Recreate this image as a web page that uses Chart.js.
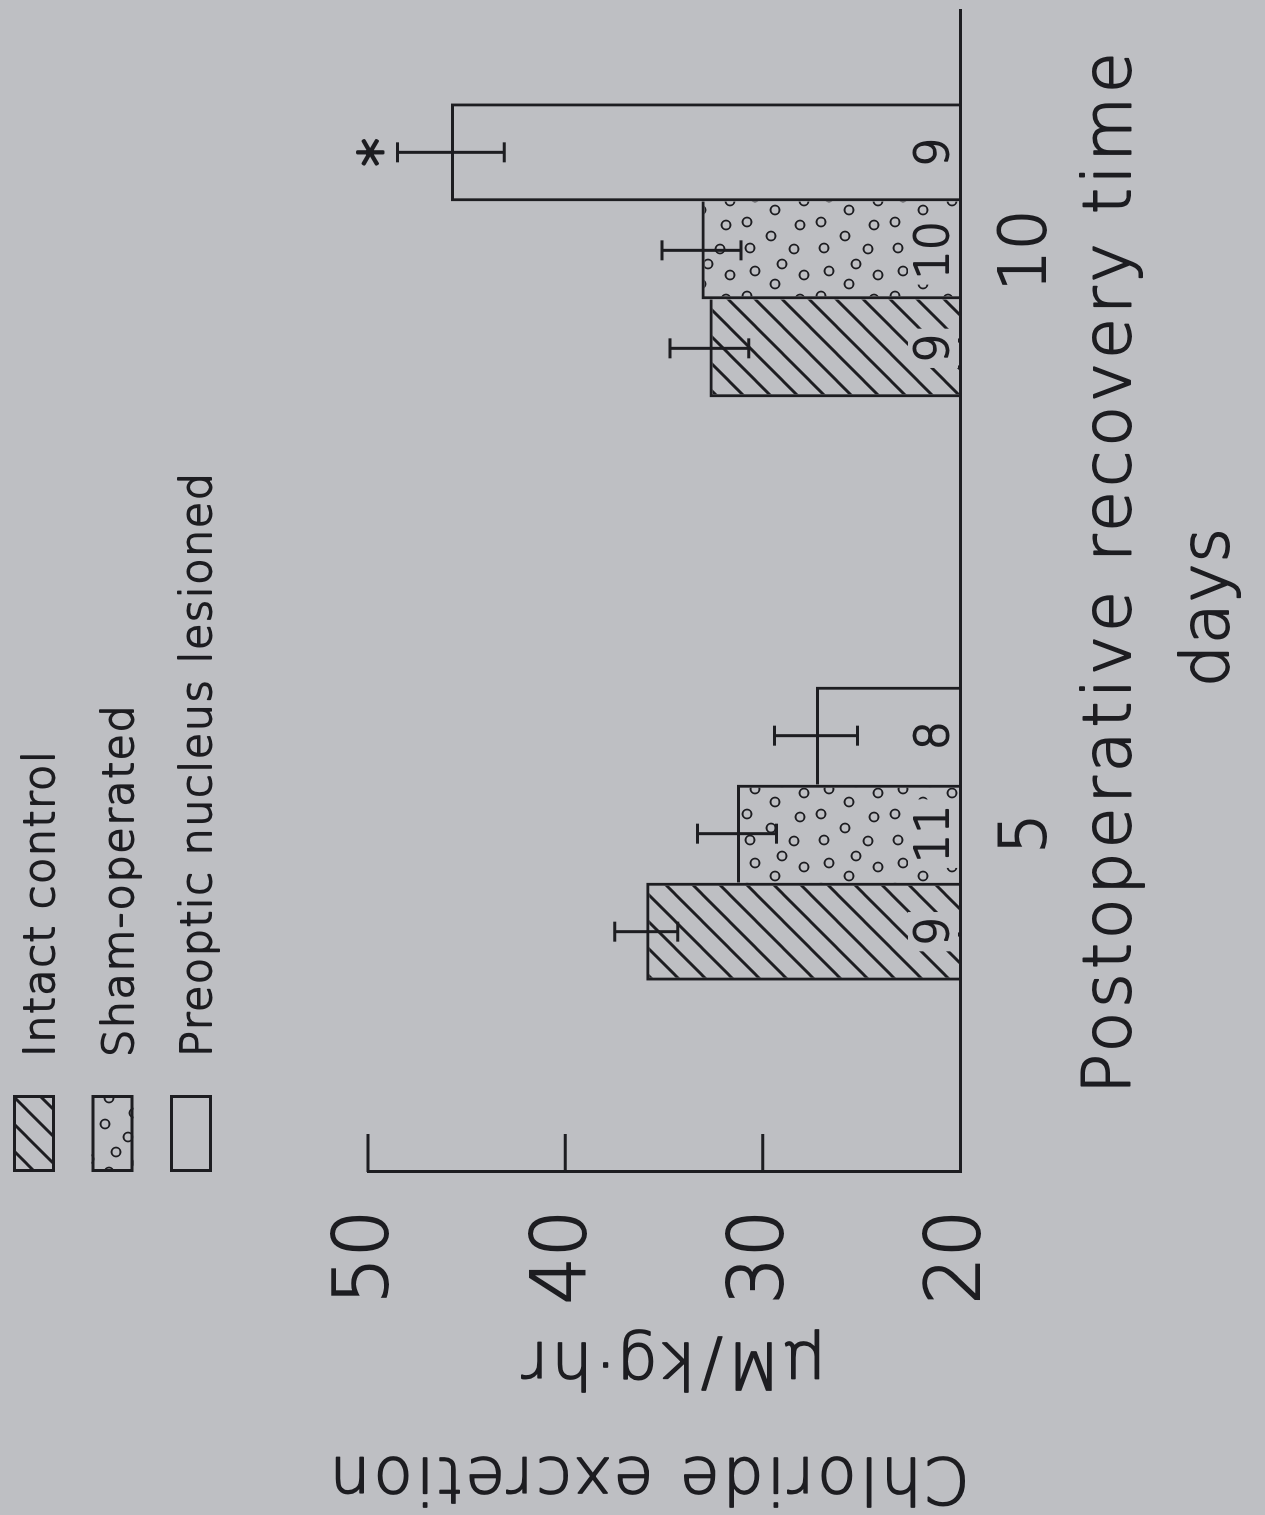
<!DOCTYPE html>
<html>
<head>
<meta charset="utf-8">
<script src="https://cdn.jsdelivr.net/npm/chart.js@4.4.1/dist/chart.umd.min.js"></script>
<style>
  html, body { margin: 0; padding: 0; width: 1265px; height: 1515px; overflow: hidden; background: #bebfc3; }
  /* the figure is laid out landscape and turned a quarter turn counter-clockwise */
  #wrap { position: absolute; left: 0; top: 0; width: 1515px; height: 1265px;
          transform-origin: 0 0; transform: translateY(1515px) rotate(-90deg); }
  canvas { display: block; }
</style>
</head>
<body>
<div id="wrap"><canvas id="chart" width="1515" height="1265"></canvas></div>
<script>
// Postoperative recovery time (days)
const categories = [5, 10];
const seriesNames = ['Intact control', 'Sham-operated', 'Preoptic nucleus lesioned'];

// chloride excretion, µM/kg·hr: mean, SE, number of animals, significance flag
const intactMeans  = [35.9, 32.7];
const intactErrors = [1.6, 2.0];
const intactN      = [9, 9];
const intactMarks  = [false, false];

const shamMeans    = [31.3, 33.1];
const shamErrors   = [2.0, 2.0];
const shamN        = [11, 10];
const shamMarks    = [false, false];

const lesionMeans  = [27.3, 45.8];
const lesionErrors = [2.1, 2.7];
const lesionN      = [8, 9];
const lesionMarks  = [false, true];

const yTicks = [20, 30, 40, 50];
const yTitle = ['Chloride excretion', 'μM/kg·hr'];
const xTitle = ['Postoperative recovery time', 'days'];

const INK = '#1d1d21';
const PAPER = '#bebfc3';
const FONT = "'DejaVu Sans', sans-serif";
const WEIGHT = 200;
const PEN = 1.8;   // extra stroke round the light lettering
const LINE = 3;

const canvas = document.getElementById('chart');
const ctx = canvas.getContext('2d');

function hatchPattern() {
  const s = 27;
  const c = document.createElement('canvas');
  c.width = s; c.height = s;
  const g = c.getContext('2d');
  g.strokeStyle = INK; g.lineWidth = 3;
  g.beginPath();
  g.moveTo(-3, s + 3); g.lineTo(s + 3, -3);
  g.moveTo(-3, 3); g.lineTo(3, -3);
  g.moveTo(s - 3, s + 3); g.lineTo(s + 3, s - 3);
  g.stroke();
  return ctx.createPattern(c, 'repeat');
}

function dotPattern() {
  const s = 74;
  const spots = [[9, 10], [35, 7], [60, 15], [21, 31], [47, 35], [67, 42], [8, 54], [32, 60], [56, 64]];
  const c = document.createElement('canvas');
  c.width = s; c.height = s;
  const g = c.getContext('2d');
  g.strokeStyle = INK; g.lineWidth = 1.8;
  spots.forEach(([x, y]) => { g.beginPath(); g.arc(x, y, 4.5, 0, Math.PI * 2); g.stroke(); });
  return ctx.createPattern(c, 'repeat');
}

const fills = [hatchPattern(), dotPattern(), 'rgba(0,0,0,0)'];

// adjoining bars share one outline: the taller bar of each pair draws the common edge
function edgeWidths(context) {
  if (context.dataIndex === undefined) return LINE;
  const sets = context.chart.data.datasets;
  const d = context.datasetIndex, i = context.dataIndex;
  const h = sets[d].data[i].y;
  const leftH = d > 0 ? sets[d - 1].data[i].y : -Infinity;
  const rightH = d < sets.length - 1 ? sets[d + 1].data[i].y : -Infinity;
  return { top: LINE, bottom: 0, left: h > leftH ? LINE : 0, right: h >= rightH ? LINE : 0 };
}

function series(i, means, errors, counts, marks) {
  return {
    label: seriesNames[i],
    data: categories.map((d, k) => ({ x: d, y: means[k] })),
    errors, counts, marks,
    backgroundColor: fills[i],
    borderColor: INK,
    borderWidth: edgeWidths,
    inflateAmount: 0
  };
}

function penText(c, text, x, y) {
  c.lineWidth = PEN;
  c.strokeStyle = INK;
  c.lineJoin = 'round';
  c.strokeText(text, x, y);
  c.fillText(text, x, y);
}

function spacedText(c, text, x, y, size, spacing, align, angle) {
  c.save();
  c.translate(x, y);
  if (angle) c.rotate(angle);
  c.font = WEIGHT + ' ' + size + 'px ' + FONT;
  c.letterSpacing = spacing + 'px';
  c.textAlign = align;
  c.textBaseline = 'alphabetic';
  c.fillStyle = INK;
  penText(c, text, 0, 0);
  c.restore();
}

const decorations = {
  id: 'decorations',
  afterDatasetsDraw(chart) {
    const c = chart.ctx;
    const yS = chart.scales.y;
    const floor = chart.chartArea.bottom;
    c.save();
    chart.data.datasets.forEach((ds, di) => {
      chart.getDatasetMeta(di).data.forEach((bar, i) => {
        const { x } = bar.getProps(['x'], true);
        const mean = ds.data[i].y, err = ds.errors[i];
        const hi = yS.getPixelForValue(mean + err);
        const lo = yS.getPixelForValue(mean - err);
        // standard error bar with caps
        c.strokeStyle = INK; c.lineWidth = LINE; c.lineCap = 'butt';
        c.beginPath();
        c.moveTo(x, lo); c.lineTo(x, hi);
        c.moveTo(x - 10, hi); c.lineTo(x + 10, hi);
        c.moveTo(x - 10, lo); c.lineTo(x + 10, lo);
        c.stroke();
        // number of animals, written at the foot of the bar
        const label = String(ds.counts[i]);
        c.font = WEIGHT + ' 46px ' + FONT;
        c.letterSpacing = '0px';
        const w = c.measureText(label).width;
        c.fillStyle = PAPER;
        c.fillRect(x - w / 2 - 5, floor - 52, w + 10, 50);
        c.fillStyle = INK;
        c.textAlign = 'center';
        c.textBaseline = 'alphabetic';
        penText(c, label, x, floor - 12);
        // significance marker
        if (ds.marks[i]) {
          c.font = WEIGHT + ' 56px ' + FONT;
          c.lineWidth = 3;
          c.strokeText('*', x, hi + 1);
          c.fillText('*', x, hi + 1);
        }
      });
    });
    c.restore();
  },
  afterDraw(chart) {
    const c = chart.ctx;
    const area = chart.chartArea;
    const yS = chart.scales.y;
    c.save();
    // inward tick marks on the value axis
    c.strokeStyle = INK; c.lineWidth = LINE;
    c.beginPath();
    yTicks.slice(1).forEach(v => {
      const p = yS.getPixelForValue(v);
      c.moveTo(area.left, p); c.lineTo(area.left + 38, p);
    });
    c.stroke();

    // legend
    chart.data.datasets.forEach((ds, i) => {
      const top = 13 + i * 78.5;
      const left = area.left;
      c.fillStyle = ds.backgroundColor;
      c.fillRect(left, top, 77, 42);
      c.strokeStyle = INK; c.lineWidth = LINE;
      c.strokeRect(left + 1.5, top + 1.5, 74, 39);
      spacedText(c, ds.label, left + 115, top + 41, 43, 1.5, 'left', 0);
    });

    // value-axis title
    const yMid = (area.top + area.bottom) / 2;
    spacedText(c, yTitle[0], 57, yMid - 16, 64, 3.3, 'center', -Math.PI / 2);
    spacedText(c, yTitle[1], 172, yMid + 8, 64, 3.3, 'center', -Math.PI / 2);

    // time-axis title
    const xMid = (area.left + area.right) / 2;
    spacedText(c, xTitle[0], xMid + 20, area.bottom + 170, 66, 4.2, 'center', 0);
    spacedText(c, xTitle[1], xMid - 16, area.bottom + 268, 66, 1, 'center', 0);
    c.restore();
  }
};

const tickText = size => ({
  color: INK,
  textStrokeColor: INK,
  textStrokeWidth: PEN,
  font: { family: FONT, size, weight: WEIGHT }
});

new Chart(canvas, {
  type: 'bar',
  data: {
    datasets: [
      series(0, intactMeans, intactErrors, intactN, intactMarks),
      series(1, shamMeans, shamErrors, shamN, shamMarks),
      series(2, lesionMeans, lesionErrors, lesionN, lesionMarks)
    ]
  },
  options: {
    responsive: false,
    animation: false,
    devicePixelRatio: 1,
    layout: { padding: { left: 0, top: 368, right: 10, bottom: 0 } },
    datasets: { bar: { categoryPercentage: 0.504, barPercentage: 1, base: yTicks[0] } },
    plugins: { legend: { display: false }, tooltip: { enabled: false } },
    scales: {
      x: {
        type: 'linear',
        min: 2.1,
        max: 12.06,
        offset: false,
        afterBuildTicks: s => { s.ticks = categories.map(v => ({ value: v })); },
        afterFit: s => { s.height = 305; },
        grid: { display: false, drawTicks: false },
        border: { display: true, color: INK, width: LINE },
        ticks: Object.assign(tickText(64), { padding: 30, callback: v => String(v) })
      },
      y: {
        min: yTicks[0],
        max: yTicks[yTicks.length - 1],
        afterBuildTicks: s => { s.ticks = yTicks.map(v => ({ value: v })); },
        afterFit: s => { s.width = 343; },
        grid: { display: false, drawTicks: false },
        border: { display: true, color: INK, width: LINE },
        ticks: Object.assign(tickText(74), { padding: 38 })
      }
    }
  },
  plugins: [decorations]
});
</script>
</body>
</html>
